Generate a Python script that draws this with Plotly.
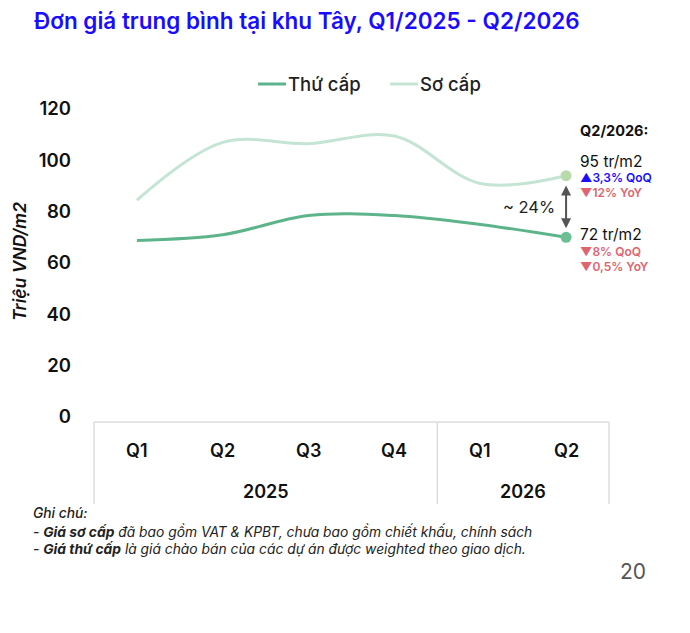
import plotly.graph_objects as go

# ---- data ----
quarters = ["Q1", "Q2", "Q3", "Q4", "Q1", "Q2"]
years = ["2025", "2025", "2025", "2025", "2026", "2026"]
thu_cap = [68.8, 71.0, 78.5, 78.5, 75.0, 70.0]    # Thứ cấp
so_cap = [84.5, 107.0, 106.5, 109.5, 91.0, 94.0]  # Sơ cấp
y_ticks = [0, 20, 40, 60, 80, 100, 120]

OFF = 8                      # page body margin
W, H = 690 - 2 * OFF, 633 - 2 * OFF
# plot area in screen pixels
L_S, R_S, T_S, B_S = 94, 609, 109, 417
ML, MR, MT, MB = L_S - OFF, W - (R_S - OFF), T_S - OFF, H - (B_S - OFF)
PW, PH = R_S - L_S, B_S - T_S

def px(xs):
    return (xs - L_S) / PW

def py(ys):
    return (B_S - ys) / PH

C_THU = "#5DB48B"
C_SO = "#C4E4D4"
FONT = "Inter"

x = list(range(len(quarters)))
fig = go.Figure()
fig.add_trace(go.Scatter(x=x, y=so_cap, mode="lines", line=dict(color=C_SO, width=3, shape="spline", smoothing=1),
                         name="Sơ cấp", hoverinfo="skip"))
fig.add_trace(go.Scatter(x=x, y=thu_cap, mode="lines", line=dict(color=C_THU, width=3, shape="spline", smoothing=1),
                         name="Thứ cấp", hoverinfo="skip"))
fig.add_trace(go.Scatter(x=[x[-1]], y=[so_cap[-1]], mode="markers", marker=dict(color="#B8DBA9", size=11),
                         showlegend=False, hoverinfo="skip"))
fig.add_trace(go.Scatter(x=[x[-1]], y=[thu_cap[-1]], mode="markers", marker=dict(color="#6CBE95", size=11),
                         showlegend=False, hoverinfo="skip"))

shapes = []
annotations = []

def txt(text, xs, ys, size, color="#111", weight=400, xanchor="left", **kw):
    annotations.append(dict(text=text, x=px(xs), y=py(ys), xref="paper", yref="paper", xanchor=xanchor,
                            yanchor="middle", showarrow=False,
                            font=dict(family=FONT, size=size, color=color, weight=weight), **kw))

# category box
n = len(quarters)
top_y, bot_y = py(422), py(504)
shapes.append(dict(type="line", xref="paper", yref="paper", x0=0, x1=1, y0=top_y, y1=top_y,
                   line=dict(color="#DCDCDC", width=1.5)))
bounds = [0]
for i in range(1, n):
    if years[i] != years[i - 1]:
        bounds.append(i / n)
bounds.append(1)
for b in bounds:
    shapes.append(dict(type="line", xref="paper", yref="paper", x0=b, x1=b, y0=top_y, y1=bot_y,
                       line=dict(color="#DCDCDC", width=1.5)))
for i, q in enumerate(quarters):
    annotations.append(dict(text=q, x=i, xref="x", y=py(450), yref="paper", yanchor="middle", showarrow=False,
                            font=dict(family=FONT, size=18, color="#111", weight=600)))
uniq_years = []
for yv in years:
    if yv not in uniq_years:
        uniq_years.append(yv)
for yv in uniq_years:
    idx = [i for i, v in enumerate(years) if v == yv]
    annotations.append(dict(text=yv, x=sum(idx) / len(idx), xref="x", y=py(491), yref="paper", yanchor="middle",
                            showarrow=False, font=dict(family=FONT, size=18, color="#111", weight=600)))

# legend (manual)
for name, col, x0, x1, tx in [("Thứ cấp", C_THU, 258, 286, 286), ("Sơ cấp", C_SO, 390, 418, 418)]:
    shapes.append(dict(type="line", xref="paper", yref="paper", x0=px(x0), x1=px(x1), y0=py(84), y1=py(84),
                       line=dict(color=col, width=3)))
    txt(name, tx, 84, 18.5, "#222", 500)

# title
txt("Đơn giá trung bình tại khu Tây, Q1/2025 - Q2/2026", 32, 20, 22.5, "#1A0DFF", 600)

# y axis title
txt("<i>Triệu VND/m2</i>", 19, 262, 17.5, "#111", 600, xanchor="center", textangle=-90)

# right-side notes
txt("Q2/2026:", 578, 131, 14.5, "#111", 700)
txt("95 tr/m2", 578, 161, 15.5, "#111", 400)
txt("▲3,3% QoQ", 578, 177, 12, "#1A0DFF", 600)
txt("▼12% YoY", 578, 192, 12, "#E06470", 600)
txt("72 tr/m2", 578, 234, 15.5, "#111", 400)
txt("▼8% QoQ", 578, 251, 12, "#E06470", 600)
txt("▼0,5% YoY", 578, 266, 12, "#E06470", 600)
txt("~ 24%", 557, 207, 16.5, "#222", 400, xanchor="right")

# double arrow between the two end points
annotations.append(dict(x=x[-1], y=so_cap[-1] - 3.8, ax=x[-1], ay=thu_cap[-1] + 3.0, xref="x", yref="y",
                        axref="x", ayref="y", text="", showarrow=True, arrowhead=2, startarrowhead=2,
                        arrowside="end+start", arrowsize=1, arrowwidth=2, arrowcolor="#555"))

# footnotes
txt("<i>Ghi chú:</i>", 31, 513, 13.8, "#222", 500)
txt("<i>- <b>Giá sơ cấp</b> đã bao gồm VAT &amp; KPBT, chưa bao gồm chiết khấu, chính sách</i>", 31, 531, 13.8, "#222")
txt("<i>- <b>Giá thứ cấp</b> là giá chào bán của các dự án được weighted theo giao dịch.</i>", 31, 549, 13.8, "#222")
txt("20", 648, 571, 21, "#555", 400, xanchor="right")

fig.update_layout(
    width=W, height=H, margin=dict(l=ML, r=MR, t=MT, b=MB),
    paper_bgcolor="white", plot_bgcolor="white", showlegend=False,
    shapes=shapes, annotations=annotations,
    xaxis=dict(range=[-0.5, n - 0.5], showticklabels=False, showgrid=False, zeroline=False, showline=False),
    yaxis=dict(range=[0, 120], tickvals=y_ticks, showgrid=False, zeroline=False, showline=False,
               ticklabelstandoff=22, tickfont=dict(family=FONT, size=18.5, color="#111", weight=600)),
)
fig.write_html("out.html")
